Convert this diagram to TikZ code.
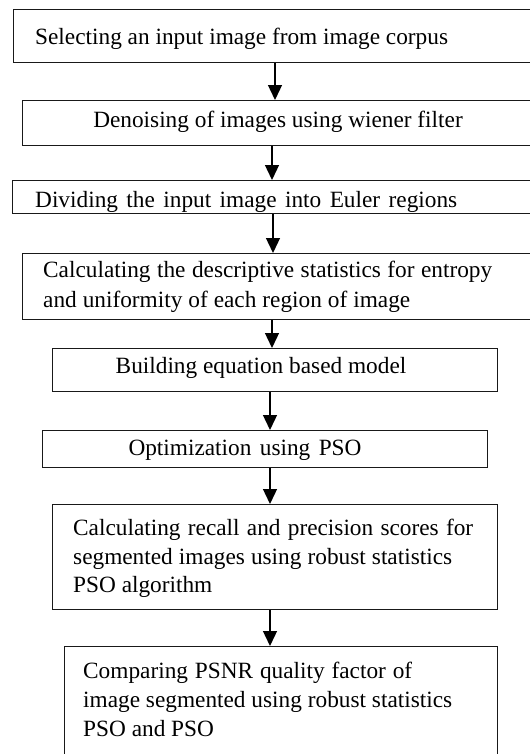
\documentclass[tikz,border=0pt]{standalone}
\usepackage{fontspec}
\setmainfont{Liberation Serif}
\usetikzlibrary{arrows.meta}
\tikzset{
  box/.style={draw=black!90, line width=1.4bp, rectangle, inner sep=0pt, anchor=north west},
  txt/.style={inner sep=0pt, anchor=base west, font=\fontsize{23.3bp}{28bp}\selectfont},
  ctxt/.style={inner sep=0pt, anchor=base, font=\fontsize{23.3bp}{28bp}\selectfont},
  arr/.style={draw=black, line width=1.3bp, -{Triangle[width=14bp,length=15bp]}}
}
\newcommand{\jl}[2]{\makebox[#1bp][s]{#2}}
\begin{document}
\begin{tikzpicture}[x=1bp,y=-1bp]
\useasboundingbox (0,0) rectangle (530,754);
\fill[white] (0,0) rectangle (530,754);
\coordinate (a1) at (275,0);
\coordinate (a2) at (272,0);
\coordinate (a3) at (273,0);
\coordinate (a5) at (270,0);
% boxes
\node[box, minimum width=527bp, minimum height=53bp] (b1) at (13,9) {};
\node[box, minimum width=518bp, minimum height=45bp] (b2) at (22,100) {};
\node[box, minimum width=528bp, minimum height=33bp] (b3) at (12,180) {};
\node[box, minimum width=518bp, minimum height=66bp] (b4) at (22,253) {};
\node[box, minimum width=445bp, minimum height=43bp] (b5) at (52,348) {};
\node[box, minimum width=445bp, minimum height=37bp] (b6) at (42,430) {};
\node[box, minimum width=445bp, minimum height=105bp] (b7) at (52,504) {};
\node[box, minimum width=433bp, minimum height=114bp] (b8) at (64,646) {};
% texts
\node[txt] (t1) at (35,45) {Selecting an input image from image corpus};
\node[ctxt] (t2) at (278,127) {Denoising of images using wiener filter};
\node[txt] (t3) at (35,207) {\jl{422}{Dividing the input image into Euler regions}};
\node[txt] (t4a) at (43,277) {\jl{449}{Calculating the descriptive statistics for entropy}};
\node[txt] (t4b) at (43,307) {\jl{367}{and uniformity of each region of image}};
\node[ctxt] (t5) at (261,373) {Building equation based model};
\node[ctxt] (t6) at (245,455) {\jl{233}{Optimization using PSO}};
\node[txt] (t7a) at (73,535) {\jl{400}{Calculating recall and precision scores for}};
\node[txt] (t7b) at (73,564) {\jl{379}{segmented images using robust statistics}};
\node[txt] (t7c) at (73,592) {PSO algorithm};
\node[txt] (t8a) at (83,678) {\jl{329}{Comparing PSNR quality factor of}};
\node[txt] (t8b) at (83,707) {\jl{369}{image segmented using robust statistics}};
\node[txt] (t8c) at (83,736) {PSO and PSO};
% arrows
\draw[arr] (b1.south -| a1) -- (b2.north -| a1);
\draw[arr] (b2.south -| a2) -- (b3.north -| a2);
\draw[arr] (b3.south -| a3) -- (b4.north -| a3);
\draw[arr] (b4.south -| a2) -- (b5.north -| a2);
\draw[arr] (b5.south -| a5) -- (b6.north -| a5);
\draw[arr] (b6.south -| a5) -- (b7.north -| a5);
\draw[arr] (b7.south -| a5) -- (b8.north -| a5);
\end{tikzpicture}
\end{document}
